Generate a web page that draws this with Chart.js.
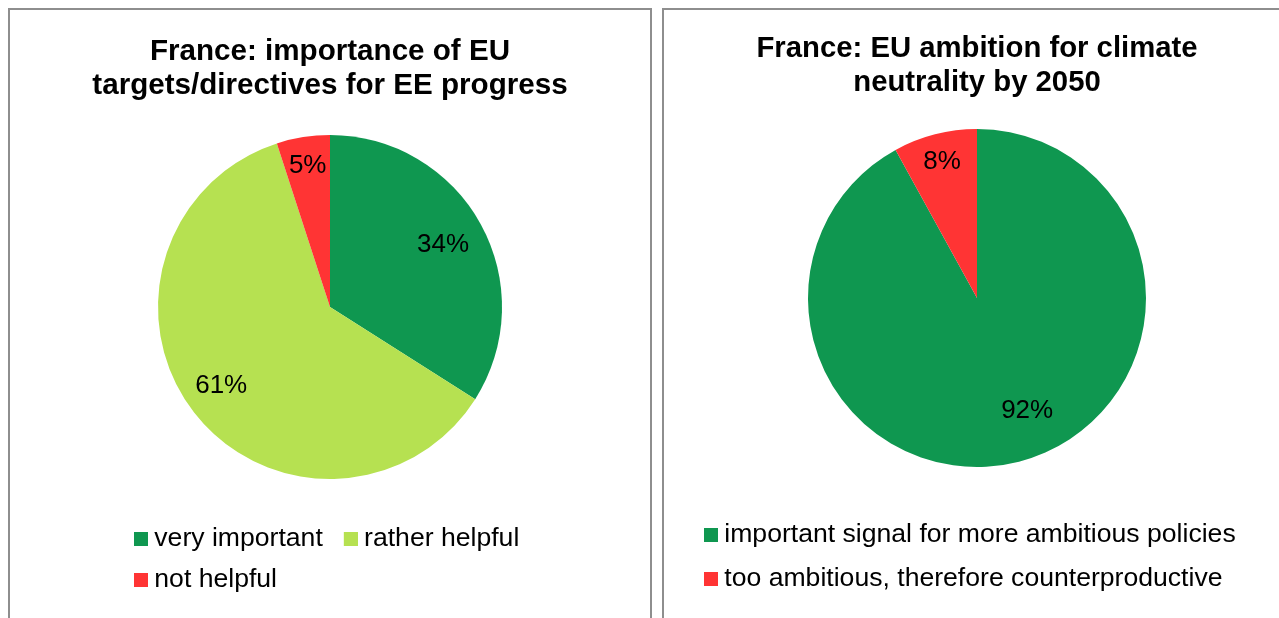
<!DOCTYPE html>
<html>
<head>
<meta charset="utf-8">
<script src="https://cdn.jsdelivr.net/npm/chart.js@4/dist/chart.umd.min.js"></script>
<style>
  body { margin: 0; background: #fff; width: 1279px; height: 618px; overflow: hidden; position: relative; }
  .panel { position: absolute; top: 8px; height: 640px; border: 2px solid #8e8e8e; background: #fff; box-sizing: border-box; }
  #p1 { left: 8px; width: 644px; }
  #p2 { left: 662px; width: 640px; }
  canvas { position: absolute; top: 0; }
  #c1 { left: 10px; }
  #c2 { left: 664px; }
</style>
</head>
<body>
<div class="panel" id="p1"></div>
<div class="panel" id="p2"></div>
<canvas id="c1" width="640" height="618"></canvas>
<canvas id="c2" width="615" height="618"></canvas>
<script>
const targetsTitle = ["France: importance of EU", "targets/directives for EE progress"];
const targetsLabels = ["very important", "rather helpful", "not helpful"];
const targetsValues = [34, 61, 5];

const ambitionTitle = ["France: EU ambition for climate", "neutrality by 2050"];
const ambitionLabels = ["important signal for more ambitious policies", "too ambitious, therefore counterproductive"];
const ambitionValues = [92, 8];

const darkGreen = "#0f9750";
const lightGreen = "#b6e151";
const red = "#ff3434";

Chart.defaults.font.family = "'Liberation Sans', Arial, sans-serif";
Chart.defaults.color = "#000";

// percentage text inside the slices
const sliceLabels = {
  id: "sliceLabels",
  afterDatasetsDraw(chart, args, opts) {
    const ctx = chart.ctx;
    const meta = chart.getDatasetMeta(0);
    const data = chart.data.datasets[0].data;
    ctx.save();
    ctx.font = "26px 'Liberation Sans', Arial, sans-serif";
    ctx.fillStyle = "#000";
    ctx.textAlign = "center";
    ctx.textBaseline = "middle";
    meta.data.forEach((arc, i) => {
      const p = arc.getProps(["x", "y", "startAngle", "endAngle", "outerRadius"], true);
      const mid = (p.startAngle + p.endAngle) / 2 + opts.shift[i] * Math.PI / 180;
      const f = opts.radius[i];
      ctx.fillText(Math.round(data[i]) + "%", p.x + Math.cos(mid) * p.outerRadius * f, p.y + Math.sin(mid) * p.outerRadius * f);
    });
    ctx.restore();
  }
};

// the layout padding is there for the legend; let the title use the full width
const wideTitle = {
  id: "wideTitle",
  afterLayout(chart) {
    const t = chart.titleBlock;
    const c = (chart.chartArea.left + chart.chartArea.right) / 2;
    t.left = c - 300;
    t.right = c + 300;
    t.width = 600;
  }
};

// small square sitting close to the legend text (square on the right half of the image)
function swatch(color) {
  const s = document.createElement("canvas");
  s.width = 28;
  s.height = 14;
  const g = s.getContext("2d");
  g.fillStyle = color;
  g.fillRect(14, 0, 14, 14);
  return s;
}

function legendItems(chart) {
  const items = Chart.overrides.pie.plugins.legend.labels.generateLabels(chart);
  items.forEach((it) => { it.pointStyle = swatch(it.fillStyle); });
  return items;
}

function makePie(id, title, labels, values, colors, lay) {
  return new Chart(document.getElementById(id), {
    type: "pie",
    data: {
      labels: labels,
      datasets: [{
        data: values,
        backgroundColor: colors,
        borderWidth: 0,
        hoverOffset: 0,
        radius: lay.radius
      }]
    },
    options: {
      responsive: false,
      animation: false,
      devicePixelRatio: 1,
      events: [],
      layout: { padding: lay.padding },
      plugins: {
        title: {
          display: true,
          text: title,
          font: { size: lay.titleSize, weight: "bold", lineHeight: 34 / lay.titleSize },
          color: "#000",
          padding: lay.titlePadding
        },
        legend: {
          position: "bottom",
          align: "start",
          labels: {
            usePointStyle: true,
            boxWidth: 14,
            boxHeight: 14,
            padding: lay.legendPadding,
            font: { size: 26.6 },
            color: "#000",
            generateLabels: legendItems
          }
        },
        tooltip: { enabled: false },
        sliceLabels: { radius: lay.labelRadius, shift: lay.labelShift }
      }
    },
    plugins: [sliceLabels, wideTitle]
  });
}

makePie("c1", targetsTitle, targetsLabels, targetsValues, [darkGreen, lightGreen, red], {
  radius: 172,
  padding: { left: 103, right: 103, top: 0, bottom: 15 },
  titleSize: 29.6,
  titlePadding: { top: 35, bottom: -0.8 },
  legendPadding: 14,
  labelRadius: [0.75, 0.78, 0.83],
  labelShift: [0, 2, 0]
});

makePie("c2", ambitionTitle, ambitionLabels, ambitionValues, [darkGreen, red], {
  radius: 169,
  padding: { left: 16, right: 5, top: 0, bottom: 16 },
  titleSize: 29.3,
  titlePadding: { top: 32, bottom: -8.8 },
  legendPadding: 17,
  labelRadius: [0.73, 0.83],
  labelShift: [-9.6, 0]
});
</script>
</body>
</html>
